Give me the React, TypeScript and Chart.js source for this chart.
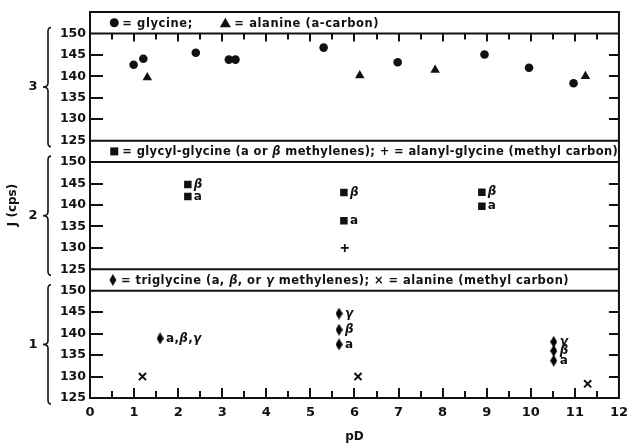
import React, { useEffect, useRef } from 'react';
import { Chart, registerables } from 'chart.js';

Chart.register(...registerables);

// ---- data (pD, J in cps) ----
const xTickValues = [0, 1, 2, 3, 4, 5, 6, 7, 8, 9, 10, 11, 12];
const yTickValues = [125, 130, 135, 140, 145, 150];
const innerTickValues = [130, 135, 140, 145];
const panelNames = ['3', '2', '1'];

// panel 3
const glycineX = [0.99, 1.21, 2.4, 3.15, 3.3, 5.3, 6.98, 8.95, 9.96, 10.97];
const glycineJ = [142.7, 144.1, 145.5, 143.9, 143.9, 146.7, 143.3, 145.1, 142.0, 138.4];
const alanineX = [1.3, 6.12, 7.83, 11.24];
const alanineJ = [139.7, 140.2, 141.5, 140.0];

// panel 2
const glyglyX = [2.22, 2.22, 5.76, 5.76, 8.89, 8.89];
const glyglyJ = [144.8, 142.0, 142.9, 136.3, 143.0, 139.7];
const glyglyLabels = ['β', 'a', 'β', 'a', 'β', 'a'];
const alaglyX = [5.78];
const alaglyJ = [130.0];

// panel 1
const trigX = [1.59, 5.65, 5.65, 5.65, 10.52, 10.52, 10.52];
const trigJ = [138.9, 144.7, 140.9, 137.5, 138.1, 136.0, 133.7];
const trigLabels = ['a,β,γ', 'γ', 'β', 'a', 'γ', 'β', 'a'];
const alaMethylX = [1.19, 6.08, 11.29];
const alaMethylJ = [130.0, 130.0, 128.3];

const legend3a = '= glycine;';
const legend3b = '= alanine (a-carbon)';
const legend2 = '= glycyl-glycine (a or β methylenes); + = alanyl-glycine (methyl carbon)';
const legend1 = '= triglycine (a, β, or γ methylenes); × = alanine (methyl carbon)';
const yTitle = 'J (cps)';
const xTitle = 'pD';

const INK = '#111111';
const FONT = 'DejaVu Sans';

const pts = (xs: number[], ys: number[]) => xs.map((x, i) => ({ x, y: ys[i] }));

function makeDiamond(): HTMLCanvasElement {
  const c = document.createElement('canvas');
  c.width = 7;
  c.height = 12;
  const g = c.getContext('2d')!;
  g.fillStyle = '#000';
  g.beginPath();
  g.moveTo(3.5, 0);
  g.lineTo(7, 6);
  g.lineTo(3.5, 12);
  g.lineTo(0, 6);
  g.closePath();
  g.fill();
  return c;
}

function drawMixed(ctx: CanvasRenderingContext2D, text: string, x: number, y: number, size: number, spacing = 0) {
  let cx = x;
  for (const ch of text) {
    const greek = ch === 'β' || ch === 'γ';
    ctx.font = `${greek ? 'italic ' : ''}bold ${size}px "${FONT}"`;
    ctx.fillText(ch, cx, y);
    cx += ctx.measureText(ch).width + spacing;
  }
}

const framePlugin = {
  id: 'framePlugin',
  afterDraw(chart: any) {
    const ctx: CanvasRenderingContext2D = chart.ctx;
    const { left, right, top, bottom } = chart.chartArea;
    const xs = chart.scales.x;
    const panels = [chart.scales.y3, chart.scales.y2, chart.scales.y1];
    ctx.save();
    ctx.setLineDash([]);
    ctx.globalAlpha = 1;
    ctx.globalCompositeOperation = 'source-over';
    ctx.strokeStyle = INK;
    ctx.fillStyle = INK;
    ctx.lineWidth = 2;
    ctx.strokeRect(left, top, right - left, bottom - top);

    // inward tick marks as filled bars
    panels.forEach((s: any) => {
      innerTickValues.forEach((v) => {
        const py = Math.round(s.getPixelForValue(v));
        ctx.fillRect(left, py - 1, 13, 2);
        ctx.fillRect(right - 10, py - 1, 10, 2);
      });
    });
    const topSep = panels[0].getPixelForValue(150);
    for (let k = 1; k < 24; k++) {
      const px = Math.round(xs.getPixelForValue(k / 2));
      const isInt = k % 2 === 0;
      ctx.fillRect(px - 1, topSep, 2, isInt ? 8 : 6);
      const h = isInt ? 10 : 7;
      ctx.fillRect(px - 1, bottom - h, 2, h);
    }

    panels.forEach((s: any, i: number) => {
      const ySep = s.getPixelForValue(150);
      const yLow = s.getPixelForValue(125);
      ctx.lineWidth = 2;
      ctx.beginPath();
      ctx.moveTo(left, ySep);
      ctx.lineTo(right, ySep);
      if (i > 0) {
        ctx.moveTo(left, s.top);
        ctx.lineTo(right, s.top);
      }
      ctx.stroke();
      // brace
      const yT = ySep - 6;
      const yB = yLow + 6;
      const ym = (ySep + yLow) / 2;
      const xv = 48;
      ctx.lineWidth = 1.6;
      ctx.beginPath();
      ctx.moveTo(51, yT);
      ctx.quadraticCurveTo(xv, yT, xv, yT + 4);
      ctx.lineTo(xv, ym - 4);
      ctx.quadraticCurveTo(xv, ym, 43, ym);
      ctx.quadraticCurveTo(xv, ym, xv, ym + 4);
      ctx.lineTo(xv, yB - 4);
      ctx.quadraticCurveTo(xv, yB, 51, yB);
      ctx.stroke();
      // panel number
      ctx.font = `bold 13px "${FONT}"`;
      ctx.textAlign = 'center';
      ctx.textBaseline = 'middle';
      ctx.fillText(panelNames[i], 33, ym);
    });

    // strip legends
    const stripY = (s: any) => (s.top + s.getPixelForValue(150)) / 2;
    ctx.textAlign = 'left';
    ctx.textBaseline = 'middle';
    let sy = stripY(panels[0]);
    ctx.beginPath();
    ctx.arc(xs.getPixelForValue(0.55), sy, 4.5, 0, Math.PI * 2);
    ctx.fill();
    drawMixed(ctx, legend3a, xs.getPixelForValue(0.55) + 8, sy + 1, 11.5, 0.6);
    const tx = xs.getPixelForValue(3.07);
    ctx.beginPath();
    ctx.moveTo(tx, sy - 5);
    ctx.lineTo(tx + 5.5, sy + 4.5);
    ctx.lineTo(tx - 5.5, sy + 4.5);
    ctx.closePath();
    ctx.fill();
    drawMixed(ctx, legend3b, tx + 9, sy + 1, 11.5, 0.6);
    sy = stripY(panels[1]);
    const sqx = xs.getPixelForValue(0.55);
    ctx.fillRect(sqx - 4, sy - 4, 8, 8);
    drawMixed(ctx, legend2, sqx + 8, sy + 1, 11.5, 0.38);
    sy = stripY(panels[2]);
    const dx = xs.getPixelForValue(0.52);
    ctx.beginPath();
    ctx.moveTo(dx, sy - 6);
    ctx.lineTo(dx + 3.5, sy);
    ctx.lineTo(dx, sy + 6);
    ctx.lineTo(dx - 3.5, sy);
    ctx.closePath();
    ctx.fill();
    drawMixed(ctx, legend1, dx + 8, sy + 1, 11.5, 0.45);

    // point labels
    const labelSets: [string, string[]][] = [
      ['glygly', glyglyLabels],
      ['trig', trigLabels],
    ];
    labelSets.forEach(([id, labels]) => {
      const dsIndex = chart.data.datasets.findIndex((d: any) => d.id === id);
      const meta = chart.getDatasetMeta(dsIndex);
      meta.data.forEach((el: any, k: number) => {
        drawMixed(ctx, labels[k], el.x + 6, el.y, 12, 0.3);
      });
    });
    ctx.restore();
  },
};

const panelScale = (showTitle: boolean) => ({
  type: 'linear' as const,
  position: 'left' as const,
  stack: 'j',
  stackWeight: 1,
  min: 125,
  max: 155,
  afterFit: (s: any) => {
    s.width = 86;
  },
  afterBuildTicks: (s: any) => {
    s.ticks = [...yTickValues, 155].map((v) => ({ value: v }));
  },
  ticks: {
    autoSkip: false,
    padding: 4,
    color: INK,
    font: { family: FONT, size: 12.5, weight: 'bold' as const },
    callback: (v: any) => (v > 150 ? '' : String(v)),
  },
  grid: { display: false, drawTicks: false },
  border: { display: false },
  title: {
    display: showTitle,
    text: yTitle,
    color: INK,
    font: { family: FONT, size: 12, weight: 'bold' as const },
    padding: { top: 2, bottom: 0 },
  },
});

export default function App() {
  const ref = useRef<HTMLCanvasElement | null>(null);
  useEffect(() => {
    if (!ref.current) return;
    const diamond = makeDiamond();
    const chart = new Chart(ref.current, {
      type: 'scatter',
      data: {
        datasets: [
          { id: 'gly', label: 'glycine', data: pts(glycineX, glycineJ), yAxisID: 'y3', pointStyle: 'circle', pointRadius: 4.3, backgroundColor: INK, borderColor: INK, borderWidth: 0 },
          { id: 'ala', label: 'alanine (a-carbon)', data: pts(alanineX, alanineJ), yAxisID: 'y3', pointStyle: 'triangle', pointRadius: 5.5, backgroundColor: INK, borderColor: INK, borderWidth: 0 },
          { id: 'glygly', label: 'glycyl-glycine', data: pts(glyglyX, glyglyJ), yAxisID: 'y2', pointStyle: 'rect', pointRadius: 5.3, backgroundColor: INK, borderColor: INK, borderWidth: 0 },
          { id: 'alagly', label: 'alanyl-glycine', data: pts(alaglyX, alaglyJ), yAxisID: 'y2', pointStyle: 'cross', pointRadius: 4, backgroundColor: INK, borderColor: INK, borderWidth: 1.8 },
          { id: 'trig', label: 'triglycine', data: pts(trigX, trigJ), yAxisID: 'y1', pointStyle: diamond, pointRadius: 6, backgroundColor: INK, borderColor: INK },
          { id: 'alam', label: 'alanine (methyl carbon)', data: pts(alaMethylX, alaMethylJ), yAxisID: 'y1', pointStyle: 'crossRot', pointRadius: 5, backgroundColor: INK, borderColor: INK, borderWidth: 2 },
        ] as any,
      },
      options: {
        animation: false,
        responsive: false,
        layout: { padding: { left: 4, right: 10, top: 12, bottom: 0 } },
        plugins: { legend: { display: false }, tooltip: { enabled: false } },
        scales: {
          x: {
            type: 'linear',
            position: 'bottom',
            min: 0,
            max: 12,
            afterFit: (s: any) => {
              s.height = 46;
            },
            afterBuildTicks: (s: any) => {
              s.ticks = xTickValues.map((v) => ({ value: v }));
            },
            ticks: {
              autoSkip: false,
              maxRotation: 0,
              padding: 7,
              color: INK,
              font: { family: FONT, size: 13, weight: 'bold' },
            },
            grid: { display: false, drawTicks: false },
            border: { display: false },
            title: {
              display: true,
              text: xTitle,
              color: INK,
              font: { family: FONT, size: 12, weight: 'bold' },
              padding: { top: 0, bottom: 0 },
            },
          },
          y1: panelScale(false),
          y2: panelScale(true),
          y3: panelScale(false),
        } as any,
      },
      plugins: [framePlugin],
    });
    return () => chart.destroy();
  }, []);
  return (
    <div style={{ position: 'fixed', left: 0, top: 0, width: 635, height: 444, background: '#fff' }}>
      <canvas ref={ref} width={635} height={444} style={{ display: 'block' }} />
    </div>
  );
}
